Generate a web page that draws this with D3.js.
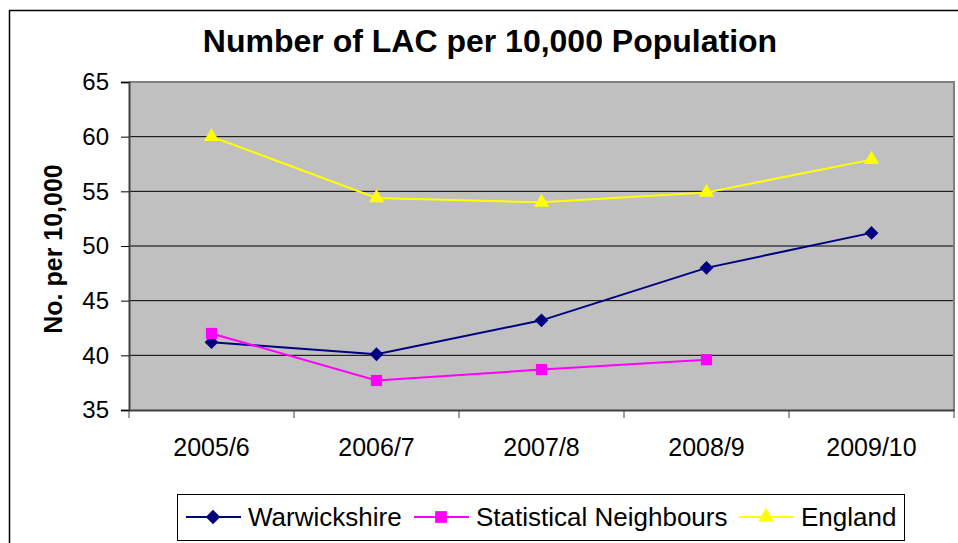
<!DOCTYPE html>
<html>
<head>
<meta charset="utf-8">
<script src="https://cdn.jsdelivr.net/npm/d3@7"></script>
<style>
  body { margin: 0; background: #fff; }
  text { font-family: Arial, "Liberation Sans", sans-serif; fill: #000; }
</style>
</head>
<body>
<svg id="chart" width="958" height="543"></svg>
<script>
const years = ["2005/6", "2006/7", "2007/8", "2008/9", "2009/10"];
const warwickshire = [41.2, 40.1, 43.2, 48.0, 51.2];
const statNeighbours = [42.0, 37.7, 38.7, 39.6, null];
const england = [60.0, 54.4, 54.0, 54.9, 57.9];
const yTicks = [35, 40, 45, 50, 55, 60, 65];

const series = [
  { name: "Warwickshire", values: warwickshire, color: "#000080", shape: d3.symbolSquare, size: 95, rot: 45 },
  { name: "Statistical Neighbours", values: statNeighbours, color: "#FF00FF", shape: d3.symbolSquare, size: 125, rot: 0 },
  { name: "England", values: england, color: "#FFFF00", shape: d3.symbolTriangle, size: 100, rot: 0 }
];

const svg = d3.select("#chart");
const plotLeft = 129, plotRight = 954, plotTop = 82, plotBottom = 410;
const font = "Arial, 'Liberation Sans', sans-serif";

// outer chart border (right/bottom edges run off the image)
svg.append("rect")
  .attr("x", 9.5).attr("y", 10.5)
  .attr("width", 960).attr("height", 560)
  .attr("fill", "#fff").attr("stroke", "#000").attr("stroke-width", 1.5);

svg.append("text")
  .attr("x", 490).attr("y", 52)
  .attr("text-anchor", "middle")
  .attr("font-size", 32).attr("font-weight", "bold")
  .text("Number of LAC per 10,000 Population");

const x = d3.scaleBand().domain(years).range([plotLeft, plotRight]);
const y = d3.scaleLinear().domain([35, 65]).range([plotBottom, plotTop]);

svg.append("rect")
  .attr("x", plotLeft).attr("y", plotTop)
  .attr("width", plotRight - plotLeft).attr("height", plotBottom - plotTop)
  .attr("fill", "#C0C0C0");

// gridlines
svg.append("g")
  .selectAll("line")
  .data(yTicks.slice(1))
  .enter().append("line")
  .attr("x1", plotLeft).attr("x2", plotRight)
  .attr("y1", d => y(d)).attr("y2", d => y(d))
  .attr("stroke", "#000").attr("stroke-width", 1);

// plot border right/top
svg.append("path")
  .attr("d", `M${plotLeft},${plotTop}H${plotRight}V${plotBottom}`)
  .attr("fill", "none").attr("stroke", "#808080").attr("stroke-width", 2);

const yAxis = svg.append("g")
  .attr("transform", `translate(${plotLeft},0)`)
  .call(d3.axisLeft(y).tickValues(yTicks).tickSize(8).tickPadding(12));
yAxis.select(".domain").attr("stroke", "#404040").attr("stroke-width", 2);
yAxis.selectAll(".tick line").attr("stroke", "#000");
yAxis.selectAll("text").attr("font-size", 24).attr("font-family", font);

const xAxis = svg.append("g")
  .attr("transform", `translate(0,${plotBottom})`)
  .call(d3.axisBottom(x).tickSize(0).tickPadding(28));
xAxis.select(".domain").attr("stroke", "#404040").attr("stroke-width", 2);
xAxis.selectAll("text").attr("font-size", 25).attr("font-family", font);

// category boundary ticks
const bounds = years.map(d => x(d)).concat([x(years[years.length - 1]) + x.bandwidth()]);
svg.append("g")
  .selectAll("line")
  .data(bounds)
  .enter().append("line")
  .attr("x1", d => d).attr("x2", d => d)
  .attr("y1", plotBottom).attr("y2", plotBottom + 8)
  .attr("stroke", "#404040").attr("stroke-width", 1);

svg.append("text")
  .attr("transform", "translate(62,249) rotate(-90)")
  .attr("text-anchor", "middle")
  .attr("font-size", 25).attr("font-weight", "bold")
  .text("No. per 10,000");

const cx = d => x(d) + x.bandwidth() / 2;
const line = d3.line()
  .defined(d => d.v != null)
  .x(d => cx(d.year))
  .y(d => y(d.v));

series.forEach(s => {
  const pts = years.map((yr, i) => ({ year: yr, v: s.values[i] }));
  svg.append("path")
    .datum(pts)
    .attr("fill", "none")
    .attr("stroke", s.color)
    .attr("stroke-width", 2)
    .attr("d", line);
  svg.append("g")
    .selectAll("path")
    .data(pts.filter(d => d.v != null))
    .enter().append("path")
    .attr("d", d3.symbol().type(s.shape).size(s.size))
    .attr("transform", d => `translate(${cx(d.year)},${y(d.v)}) rotate(${s.rot})`)
    .attr("fill", s.color);
});

// legend
const legend = svg.append("g");
legend.append("rect")
  .attr("x", 177.5).attr("y", 494.5)
  .attr("width", 727).attr("height", 46)
  .attr("fill", "#fff").attr("stroke", "#000").attr("stroke-width", 1);

const legendX = [186, 414, 739];
series.forEach((s, i) => {
  const g = legend.append("g").attr("transform", `translate(${legendX[i]},517)`);
  g.append("line")
    .attr("x1", 0).attr("x2", 55)
    .attr("stroke", s.color).attr("stroke-width", 2);
  g.append("path")
    .attr("d", d3.symbol().type(s.shape).size(s.size * 1.1))
    .attr("transform", `translate(27,0) rotate(${s.rot})`)
    .attr("fill", s.color);
  g.append("text")
    .attr("x", 62).attr("y", 9)
    .attr("font-size", 26)
    .text(s.name);
});
</script>
</body>
</html>
